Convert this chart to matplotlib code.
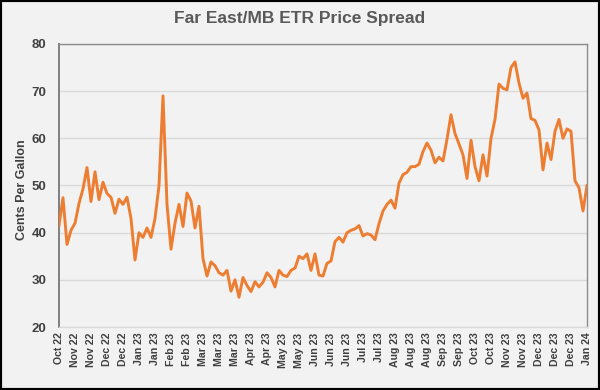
import matplotlib
matplotlib.use("Agg")
import matplotlib.pyplot as plt
from matplotlib.patches import Rectangle

plt.rcParams['font.family'] = ['Liberation Sans', 'DejaVu Sans']

title = "Far East/MB ETR Price Spread"
y_label = "Cents Per Gallon"

# spread values (cents per gallon), evenly spaced observations
spread = [
    41.5, 47.4, 37.5, 40.5, 42.0, 46.2, 49.3, 53.8, 46.6, 52.9,
    47.0, 50.7, 48.3, 47.5, 44.1, 47.1, 46.0, 47.5, 43.0, 34.2,
    40.0, 39.0, 41.0, 39.0, 43.0, 50.0, 69.0, 46.0, 36.5, 42.0,
    46.0, 41.3, 48.4, 46.7, 41.0, 45.6, 34.5, 30.8, 33.8, 33.0,
    31.5, 31.0, 32.0, 27.6, 30.0, 26.3, 30.5, 28.8, 27.5, 29.6,
    28.5, 29.5, 31.5, 30.5, 28.5, 32.0, 31.0, 30.7, 32.0, 32.5,
    35.0, 34.5, 35.5, 32.0, 35.5, 31.0, 30.8, 33.5, 34.0, 38.1,
    39.0, 38.0, 40.0, 40.5, 40.8, 41.5, 39.3, 39.8, 39.5, 38.5,
    41.9, 44.6, 46.0, 46.9, 45.2, 50.5, 52.3, 52.8, 54.0, 54.0,
    54.5, 57.2, 59.0, 57.5, 54.8, 56.0, 55.2, 59.8, 65.0, 61.0,
    58.8, 56.5, 51.5, 59.6, 54.0, 51.0, 56.5, 52.0, 60.0, 64.0,
    71.5, 70.6, 70.3, 75.0, 76.2, 71.7, 68.5, 69.6, 64.2, 63.8,
    61.8, 53.3, 59.0, 55.5, 61.5, 64.0, 60.0, 62.0, 61.5, 51.0,
    49.5, 44.6, 50.0,
]

tick_labels = [
    "Oct 22", "Nov 22", "Nov 22", "Dec 22", "Dec 22", "Jan 23", "Jan 23",
    "Feb 23", "Feb 23", "Mar 23", "Mar 23", "Mar 23", "Apr 23", "Apr 23",
    "May 23", "May 23", "Jun 23", "Jun 23", "Jun 23", "Jul 23", "Jul 23",
    "Aug 23", "Aug 23", "Aug 23", "Sep 23", "Sep 23", "Oct 23", "Oct 23",
    "Nov 23", "Nov 23", "Dec 23", "Dec 23", "Dec 23", "Jan 24",
]
y_ticks = [20, 30, 40, 50, 60, 70, 80]

bg = "#F2F2F2"
fig = plt.figure(figsize=(6.0, 3.9), dpi=100, facecolor=bg)
ax = fig.add_axes([59/600, 1-327/390, 528/600, 283/390])
ax.set_facecolor(bg)

n = len(spread)
xs = list(range(n))
ax.plot(xs, spread, color="#ED7D31", lw=2.1, solid_joinstyle="round", zorder=3)

ax.set_xlim(0, n - 1)
ax.set_ylim(20, 80)
ax.set_yticks(y_ticks)
ax.set_yticklabels([str(v) for v in y_ticks])
step = (n - 1) / (len(tick_labels) - 1)
ax.set_xticks([i * step for i in range(len(tick_labels))])
ax.set_xticklabels(tick_labels, rotation=90)

ax.yaxis.grid(True, color="#D9D9D9", lw=1.0)
ax.set_axisbelow(True)
ax.tick_params(axis="y", length=0, pad=9, labelsize=9.5, labelcolor="#404040")
ax.tick_params(axis="x", length=0, pad=4, labelsize=7.6, labelcolor="#404040")
for lbl in ax.get_xticklabels() + ax.get_yticklabels():
    lbl.set_fontweight("bold")

ax.spines["left"].set_color("#7F7F7F")
ax.spines["left"].set_linewidth(1.4)
for s in ["top", "right"]:
    ax.spines[s].set_color("#8C8C8C")
    ax.spines[s].set_linewidth(1.0)
ax.spines["bottom"].set_color("#D9D9D9")
ax.spines["bottom"].set_linewidth(1.0)

fig.text(0.5, 1 - 19/390, title, ha="center", va="center",
         fontsize=12.5, fontweight="bold", color="#595959")
fig.text(22/600, 1 - 190/390, y_label, ha="center", va="center",
         rotation=90, fontsize=9, fontweight="bold", color="#404040")

fig.patches.append(Rectangle((0, 0), 1, 1, transform=fig.transFigure,
                             fill=False, edgecolor="black", lw=3))

fig.savefig("out.png", dpi=100, facecolor=bg)
